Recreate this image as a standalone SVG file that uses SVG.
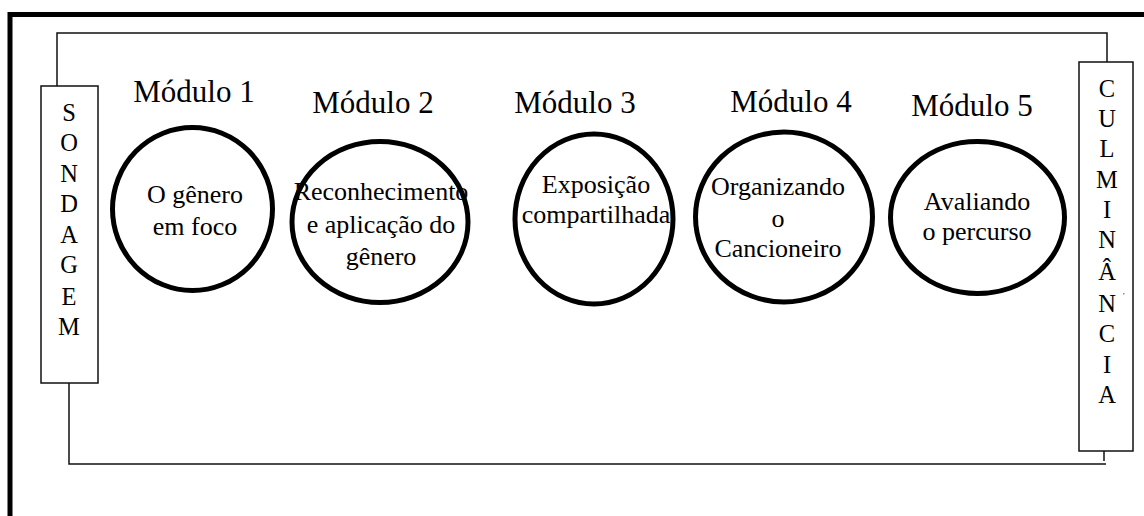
<svg xmlns="http://www.w3.org/2000/svg" width="1144" height="516" viewBox="0 0 1144 516">
  <style>
    .frame { fill: none; stroke: #000; stroke-width: 5; }
    .wire { fill: none; stroke: #111; stroke-width: 1.5; }
    .box { fill: #fff; stroke: #111; stroke-width: 1.5; }
    .ring { fill: #fff; stroke: #000; stroke-width: 5; }
    text { font-family: 'Liberation Serif', 'DejaVu Serif', 'Times New Roman', serif; fill: #000; text-anchor: middle; }
    .title { font-size: 31px; }
    .body { font-size: 26px; }
    .letter { font-size: 24.5px; }
  </style>
  <rect width="1144" height="516" fill="#fff"/>

  <!-- outer heavy frame (top and left edges) -->
  <path class="frame" d="M10 516 V14.5 H1144"/>

  <!-- connectors linking the opening and closing stages -->
  <g id="connectors">
    <path class="wire" d="M57 86 V33 H1107 V62"/>
    <path class="wire" d="M69 383 V464 H1106"/>
    <line class="wire" x1="1104" y1="446" x2="1104" y2="461"/>
  </g>

  <g id="sondagem">
    <rect class="box" x="41" y="86" width="57" height="297"/>
    <text class="letter" x="69" y="121">S</text>
    <text class="letter" x="69" y="151">O</text>
    <text class="letter" x="69" y="182">N</text>
    <text class="letter" x="69" y="212">D</text>
    <text class="letter" x="69" y="243">A</text>
    <text class="letter" x="69" y="273">G</text>
    <text class="letter" x="69" y="305">E</text>
    <text class="letter" x="69" y="335">M</text>
  </g>

  <g id="modulo1">
    <text class="title" x="194" y="102">Módulo 1</text>
    <ellipse class="ring" cx="192.5" cy="209" rx="80" ry="81.5"/>
    <text class="body" x="195" y="203">O gênero</text>
    <text class="body" x="195" y="235">em foco</text>
  </g>

  <g id="modulo2">
    <text class="title" x="373" y="113">Módulo 2</text>
    <ellipse class="ring" cx="380" cy="222" rx="88" ry="80.5"/>
    <text class="body" x="381" y="200">Reconhecimento</text>
    <text class="body" x="381" y="233">e aplicação do</text>
    <text class="body" x="381" y="265">gênero</text>
  </g>

  <g id="modulo3">
    <text class="title" x="575" y="113">Módulo 3</text>
    <ellipse class="ring" cx="594" cy="219" rx="79" ry="85"/>
    <text class="body" x="596" y="193">Exposição</text>
    <text class="body" x="596" y="223">compartilhada</text>
  </g>

  <g id="modulo4">
    <text class="title" x="791" y="112">Módulo 4</text>
    <ellipse class="ring" cx="784" cy="217" rx="88.5" ry="85"/>
    <text class="body" x="778" y="195">Organizando</text>
    <text class="body" x="778" y="227">o</text>
    <text class="body" x="778" y="257">Cancioneiro</text>
  </g>

  <g id="modulo5">
    <text class="title" x="972" y="116">Módulo 5</text>
    <ellipse class="ring" cx="977.5" cy="217.5" rx="87" ry="76"/>
    <text class="body" x="977" y="210">Avaliando</text>
    <text class="body" x="977" y="240">o percurso</text>
  </g>

  <g id="culminancia">
    <rect class="box" x="1079" y="62" width="54" height="389"/>
    <text class="letter" x="1107" y="97">C</text>
    <text class="letter" x="1107" y="127">U</text>
    <text class="letter" x="1107" y="157">L</text>
    <text class="letter" x="1107" y="188">M</text>
    <text class="letter" x="1107" y="218">I</text>
    <text class="letter" x="1107" y="248">N</text>
    <text class="letter" x="1107" y="280">Â</text>
    <text class="letter" x="1107" y="312">N</text>
    <text class="letter" x="1107" y="342">C</text>
    <text class="letter" x="1107" y="373">I</text>
    <text class="letter" x="1107" y="403">A</text>
    <rect x="1123" y="293" width="1.5" height="1.5" fill="#8090b0"/>
  </g>
</svg>
